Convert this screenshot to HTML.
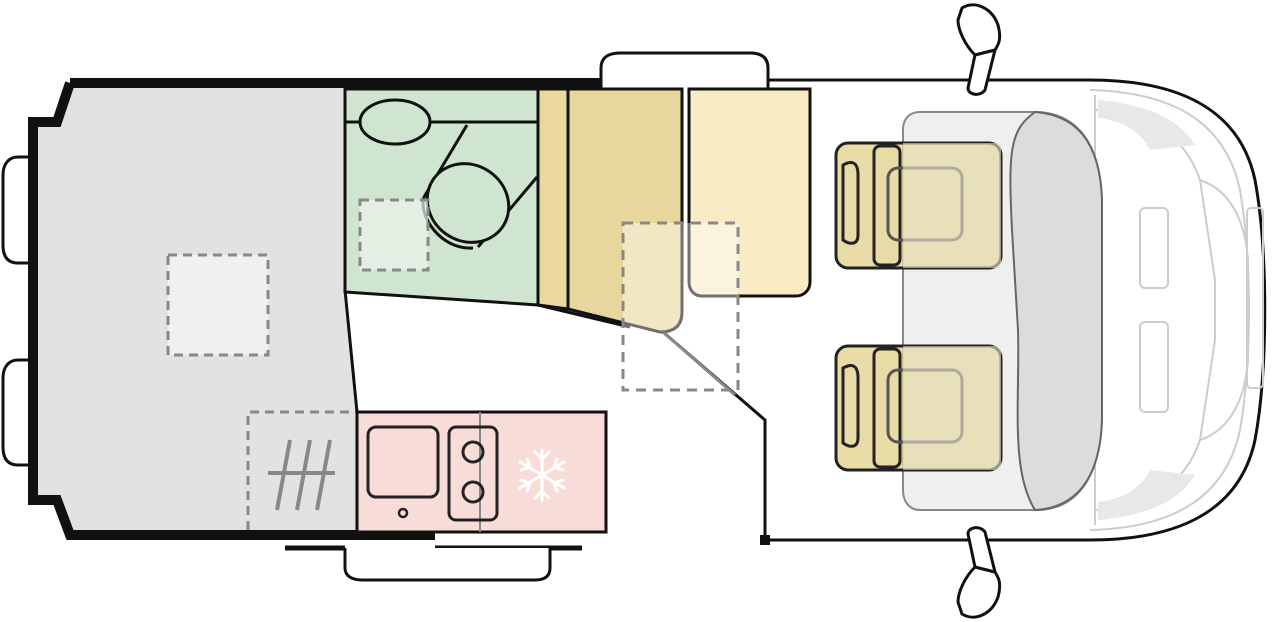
<!DOCTYPE html>
<html><head><meta charset="utf-8"><style>html,body{margin:0;padding:0;background:#fff}svg{display:block}</style></head>
<body>
<svg width="1280" height="622" viewBox="0 0 1280 622" xmlns="http://www.w3.org/2000/svg">
<!-- cab outline -->
<path d="M600 80 L1090 80 C1180 80 1240 110 1255 180 C1268 250 1268 370 1255 440 C1240 510 1180 540 1090 540 L765 540" fill="#fff" stroke="#111" stroke-width="3"/>
<!-- cab inner light lines -->
<g fill="none" stroke="#ccc" stroke-width="2">
<path d="M1090 90 C1170 92 1225 120 1240 190 C1252 260 1252 360 1240 430 C1225 500 1170 528 1090 530"/>
<path d="M1095 95 L1095 525"/>
<path d="M1095 110 C1150 115 1185 135 1200 180 L1215 280 L1215 340 L1200 440 C1185 485 1150 505 1095 510"/>
<path d="M1200 180 C1230 190 1245 220 1248 260 L1248 360 C1245 400 1230 430 1200 440"/>
<rect x="1140" y="208" width="28" height="80" rx="5"/>
<rect x="1140" y="322" width="28" height="90" rx="5"/>
<rect x="1247" y="208" width="16" height="180" rx="4"/>
</g>
<path d="M1098 100 C1150 105 1180 120 1195 145 L1150 150 C1140 130 1120 120 1098 118Z" fill="#e8e8e8"/>
<path d="M1098 520 C1150 515 1180 500 1195 475 L1150 470 C1140 490 1120 500 1098 502Z" fill="#e8e8e8"/>
<!-- dashboard -->
<path d="M920 112 L1040 112 C1075 115 1100 140 1102 200 L1102 420 C1100 480 1075 508 1040 510 L920 510 C908 510 903 500 903 490 L903 130 C903 118 910 112 920 112Z" fill="#efefef" stroke="#888" stroke-width="2"/>
<path d="M1035 112 C1010 130 1008 150 1012 230 L1018 330 C1020 400 1010 470 1035 510 C1075 508 1100 480 1102 420 L1102 200 C1100 140 1075 115 1035 112Z" fill="#dcdcdc" stroke="#666" stroke-width="2"/>
<!-- mirrors -->
<g fill="#fff" stroke="#111" stroke-width="3">
<path d="M962 8 C975 0 992 8 998 25 C1002 40 998 45 995 50 L975 55 C965 45 958 30 958 20Z"/>
<path d="M975 55 L995 50 L985 90 C980 97 968 95 968 88Z"/>
<path d="M962 614 C975 622 992 614 998 597 C1002 582 998 577 995 572 L975 567 C965 577 958 592 958 602Z"/>
<path d="M975 567 L995 572 L985 532 C980 525 968 527 968 534Z"/>
</g>
<!-- seats -->
<g stroke="#222" stroke-width="3">
<rect x="836" y="143" width="165" height="125" rx="12" fill="#e3d28f" fill-opacity="0.8"/>
<rect x="836" y="346" width="165" height="124" rx="12" fill="#e3d28f" fill-opacity="0.8"/>
<path d="M843 165 C852 160 858 162 858 175 L858 235 C858 245 850 245 843 240Z" fill="none"/>
<path d="M843 368 C852 363 858 365 858 378 L858 438 C858 448 850 448 843 443Z" fill="none"/>
<rect x="874" y="146" width="26" height="119" rx="6" fill="none"/>
<rect x="874" y="349" width="26" height="118" rx="6" fill="none"/>
<rect x="888" y="168" width="74" height="72" rx="10" fill="none" stroke="#555"/>
<rect x="888" y="370" width="74" height="72" rx="10" fill="none" stroke="#555"/>
</g>
<rect x="903" y="143" width="98" height="125" fill="#e9e4cc" opacity="0.6"/>
<rect x="903" y="346" width="98" height="124" fill="#e9e4cc" opacity="0.6"/>
<!-- top step -->
<path d="M601 88 L601 68 C601 58 608 53 620 53 L750 53 C762 53 768 58 768 68 L768 88" fill="#fff" stroke="#111" stroke-width="3"/>
<!-- rear body -->
<path d="M70 83 L345 83 L345 290 L357 412 L357 535 L70 535 L57 500 L35 500 L35 122 L57 122Z" fill="#e2e2e2"/>
<path d="M70 83 L600 83 M70 83 L57 122 L33 122 L33 500 L57 500 L70 535 L435 535" fill="none" stroke="#111" stroke-width="10"/>
<line x1="435" y1="548" x2="582" y2="548" stroke="#111" stroke-width="5"/>
<line x1="285" y1="548" x2="345" y2="548" stroke="#111" stroke-width="5"/>
<path d="M345 548 L345 568 C345 576 352 580 362 580 L535 580 C545 580 550 576 550 568 L550 548" fill="#fff" stroke="#111" stroke-width="3"/>
<!-- wheels -->
<g fill="#fff" stroke="#111" stroke-width="3">
<path d="M28 157 L18 157 C8 157 3 165 3 175 L3 245 C3 257 8 263 18 263 L28 263"/>
<path d="M28 360 L18 360 C8 360 3 368 3 378 L3 447 C3 459 8 465 18 465 L28 465"/>
</g>
<line x1="345" y1="290" x2="357" y2="412" stroke="#111" stroke-width="3"/>
<!-- bathroom -->
<path d="M345 89 L538 89 L538 305 L345 292Z" fill="#cfe5cf" stroke="#111" stroke-width="3"/>
<line x1="345" y1="122" x2="538" y2="122" stroke="#111" stroke-width="3"/>
<ellipse cx="395" cy="122" rx="35" ry="22" fill="#cfe5cf" stroke="#111" stroke-width="3"/>
<g fill="none" stroke="#111" stroke-width="3">
<line x1="467" y1="125" x2="424" y2="197"/>
<line x1="537" y1="177" x2="478" y2="247"/>
<path d="M424 197 C418 215 440 250 473 248"/>
<ellipse cx="468" cy="203" rx="42" ry="38" transform="rotate(35 468 203)" fill="#cfe5cf"/>
</g>
<rect x="360" y="200" width="68" height="70" fill="#ebf3eb" fill-opacity="0.7" stroke="#888" stroke-width="3" stroke-dasharray="9 6"/>
<!-- cabinets -->
<path d="M538 89 L568 89 L568 309 L538 305Z" fill="#ebd89c" stroke="#111" stroke-width="3"/>
<path d="M568 89 L682 89 L682 312 C682 325 675 332 660 332 L568 309Z" fill="#e8d79c" stroke="#111" stroke-width="3"/>
<path d="M538 305 L630 327" stroke="#111" stroke-width="3"/>
<path d="M689 89 L810 89 L810 282 C810 290 804 296 796 296 L702 296 C694 296 689 290 689 282Z" fill="#f9ecc4" stroke="#111" stroke-width="3"/>
<rect x="623" y="223" width="115" height="167" fill="#fff" fill-opacity="0.4" stroke="#888" stroke-width="3" stroke-dasharray="10 7"/>
<path d="M663 332 L765 420 L765 540" fill="none" stroke="#111" stroke-width="3"/>
<path d="M663 332 L735 395" stroke="#888" stroke-width="3"/>
<rect x="760" y="535" width="10" height="10" fill="#111"/>
<!-- left dashed -->
<rect x="168" y="255" width="100" height="100" fill="#f0f0f0" stroke="#888" stroke-width="3" stroke-dasharray="9 6"/>
<path d="M248 530 L248 412 L357 412" fill="none" stroke="#888" stroke-width="3" stroke-dasharray="9 6"/>
<g stroke="#888" stroke-width="4">
<line x1="268" y1="473" x2="335" y2="473"/>
<line x1="290" y1="440" x2="277" y2="510"/>
<line x1="310" y1="440" x2="297" y2="510"/>
<line x1="330" y1="440" x2="317" y2="510"/>
</g>
<!-- kitchen -->
<rect x="357" y="412" width="249" height="120" fill="#f8dcd8" stroke="#111" stroke-width="3"/>
<line x1="480" y1="412" x2="480" y2="532" stroke="#888" stroke-width="2"/>
<rect x="368" y="427" width="70" height="70" rx="8" fill="none" stroke="#222" stroke-width="3"/>
<circle cx="403" cy="513" r="4" fill="none" stroke="#222" stroke-width="2.5"/>
<rect x="449" y="427" width="48" height="93" rx="7" fill="none" stroke="#222" stroke-width="3"/>
<circle cx="473" cy="452" r="10" fill="none" stroke="#222" stroke-width="3"/>
<circle cx="473" cy="492" r="10" fill="none" stroke="#222" stroke-width="3"/>
<g stroke="#fff" stroke-width="3" stroke-linecap="round" fill="none">
<line x1="542" y1="450" x2="542" y2="500"/>
<line x1="520" y1="462" x2="564" y2="488"/>
<line x1="520" y1="488" x2="564" y2="462"/>
<path d="M535 452 L542 459 L549 452 M535 498 L542 491 L549 498"/>
<path d="M521 470 L530 467 L527 459 M563 470 L554 467 L557 459"/>
<path d="M521 480 L530 483 L527 491 M563 480 L554 483 L557 491"/>
</g>
</svg>
</body></html>
